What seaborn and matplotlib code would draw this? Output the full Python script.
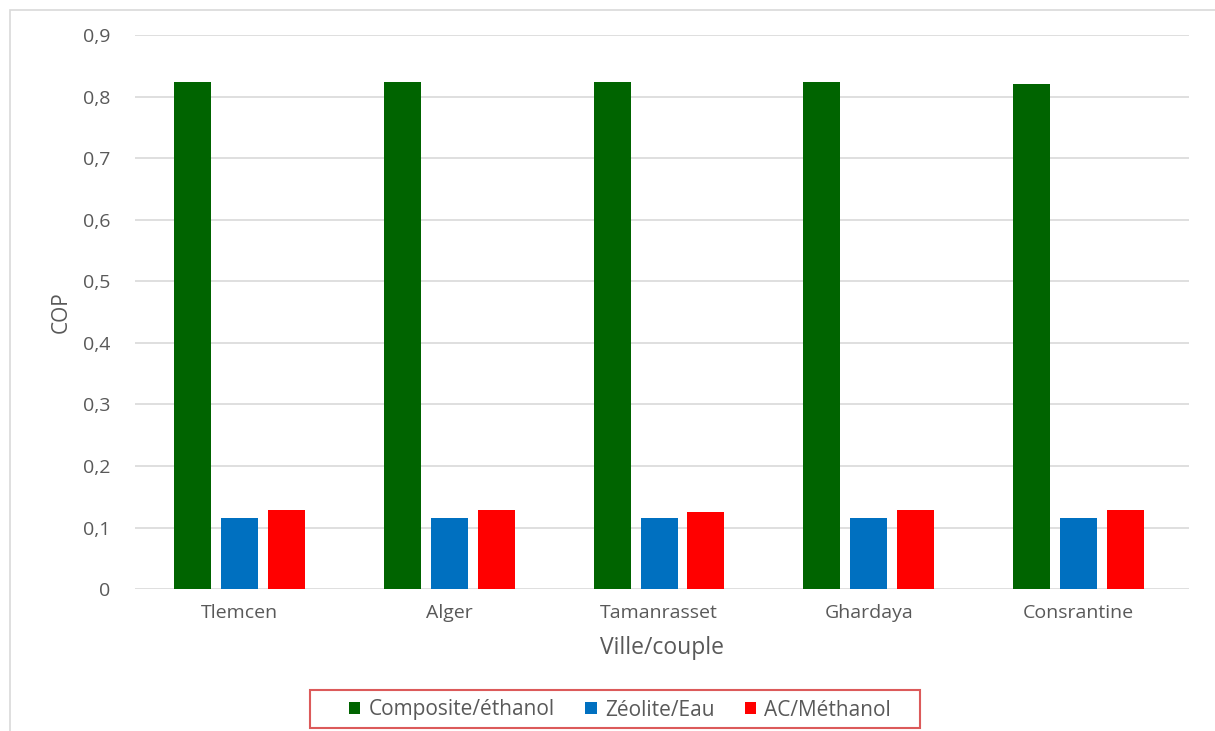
import matplotlib
matplotlib.use("Agg")
import matplotlib.pyplot as plt
import seaborn as sns
import pandas as pd
from matplotlib.patches import Rectangle

# Data
villes = ["Tlemcen", "Alger", "Tamanrasset", "Ghardaya", "Consrantine"]
couples = ["Composite/éthanol", "Zéolite/Eau", "AC/Méthanol"]
cop_composite = [0.824, 0.824, 0.824, 0.824, 0.821]
cop_zeolite = [0.116, 0.116, 0.116, 0.116, 0.116]
cop_ac = [0.128, 0.128, 0.126, 0.128, 0.128]
y_ticks = [0, 0.1, 0.2, 0.3, 0.4, 0.5, 0.6, 0.7, 0.8, 0.9]
y_tick_labels = ["0", "0,1", "0,2", "0,3", "0,4", "0,5", "0,6", "0,7", "0,8", "0,9"]

colors = ["#006400", "#0070C0", "#FF0000"]

df = pd.DataFrame({
    "Ville": villes * 3,
    "Couple": [couples[0]] * 5 + [couples[1]] * 5 + [couples[2]] * 5,
    "COP": cop_composite + cop_zeolite + cop_ac,
})

sns.set_theme(style="white")
plt.rcParams["font.family"] = ["Open Sans", "DejaVu Sans"]

W, H = 1215, 731
fig = plt.figure(figsize=(W / 100, H / 100), dpi=100)
ax = fig.add_axes([0.111, 0.194, 0.868, 0.758])

sns.barplot(data=df, x="Ville", y="COP", hue="Couple", palette=colors,
            width=0.67, gap=0.21, ax=ax, edgecolor="none", saturation=1)

ax.set_ylim(0, 0.9)
ax.set_xlim(-0.5, 4.53)
ax.set_yticks(y_ticks)
ax.set_yticklabels(y_tick_labels)
ax.yaxis.grid(True, color="#D9D9D9", linewidth=1.2)
ax.set_axisbelow(True)
for s in ax.spines.values():
    s.set_visible(False)
ax.tick_params(axis="both", length=0, colors="#595959", labelsize=14)
ax.tick_params(axis="y", pad=17.5)
ax.tick_params(axis="x", pad=11)
ax.set_xlabel("Ville/couple", fontsize=16.5, color="#595959", labelpad=10)
ax.set_ylabel("COP", fontsize=15, color="#595959", labelpad=8)

# Legend without its own frame; the box is drawn separately
leg = ax.legend(loc="center", bbox_to_anchor=(620 / W, 1 - 710 / H),
                bbox_transform=fig.transFigure, ncol=3, frameon=False,
                fontsize=15, handlelength=0.55, handleheight=0.55,
                handletextpad=0.4, columnspacing=1.45)
for t in leg.get_texts():
    t.set_color("#595959")

fig.patches.append(Rectangle((310 / W, 1 - 728 / H), 610 / W, 38 / H,
                             transform=fig.transFigure, fill=False,
                             edgecolor="#DC5A5A", linewidth=1.5))

# Outer chart frame
fig.patches.append(Rectangle((10 / W, -0.1), 1.2, 1 - 10 / H + 0.1,
                             transform=fig.transFigure, fill=False,
                             edgecolor="#D9D9D9", linewidth=1.2))

fig.savefig("out.png", dpi=100)
